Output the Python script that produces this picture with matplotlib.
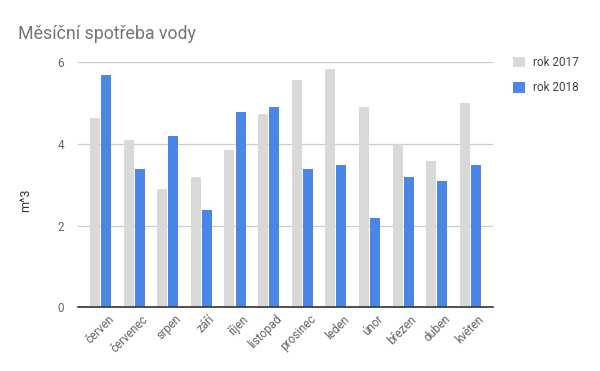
import matplotlib.pyplot as plt
import matplotlib.transforms as mtransforms
import numpy as np

plt.rcParams['font.family'] = ['Roboto', 'DejaVu Sans']

months = ["červen", "červenec", "srpen", "září", "říjen", "listopad",
          "prosinec", "leden", "únor", "březen", "duben", "květen"]
rok_2017 = [4.63, 4.10, 2.90, 3.19, 3.85, 4.73, 5.57, 5.84, 4.91, 3.99, 3.58, 5.00]
rok_2018 = [5.69, 3.39, 4.20, 2.38, 4.78, 4.91, 3.39, 3.49, 2.19, 3.19, 3.09, 3.49]

fig = plt.figure(figsize=(6, 3.71), dpi=100)
ax = fig.add_axes([0.13, 0.172, 0.692, 0.66])

x = np.arange(len(months))
w = 0.3
ax.bar(x - w / 2 - 0.015, rok_2017, w, color='#d9d9d9', label='rok 2017', zorder=3)
ax.bar(x + w / 2 + 0.015, rok_2018, w, color='#4a86e8', label='rok 2018', zorder=3)

ax.set_xlim(-0.67, len(months) - 0.32)
ax.set_ylim(0, 6)
ax.set_yticks([0, 2, 4, 6])
ax.yaxis.grid(True, color='#cccccc', linewidth=0.9, zorder=0)
for s in ['top', 'right', 'left']:
    ax.spines[s].set_visible(False)
ax.spines['bottom'].set_color('#333333')
ax.spines['bottom'].set_linewidth(1.2)
ax.spines['bottom'].set_zorder(4)
ax.tick_params(axis='both', length=0, colors='#666666', labelsize=8.5)
ax.tick_params(axis='y', pad=10)
ax.tick_params(axis='x', pad=4)
ax.set_xticks(x)
ax.set_xticklabels(months, rotation=45, ha='right', rotation_mode='anchor')
shift = mtransforms.ScaledTranslation(0.07, 0, fig.dpi_scale_trans)
for lbl in ax.get_xticklabels():
    lbl.set_transform(lbl.get_transform() + shift)

fig.text(26 / 600, 1 - 200 / 371, 'm^3', rotation=90, color='#333333',
         fontsize=9, ha='center', va='center')

fig.text(0.03, 0.895, 'Měsíční spotřeba vody', fontsize=12.8, color='#757575')

ax.legend(loc='upper left', bbox_to_anchor=(0.8545, 0.849),
          bbox_transform=fig.transFigure, frameon=False, borderpad=0,
          borderaxespad=0, fontsize=8.5, labelcolor='#444444',
          handlelength=1.0, handleheight=1.0, labelspacing=1.05,
          handletextpad=0.7)

fig.savefig('out.png', dpi=100)
